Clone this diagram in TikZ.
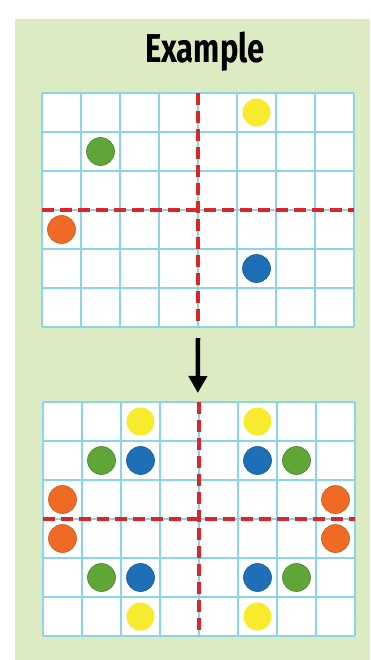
\documentclass[tikz,border=0pt]{standalone}
\usepackage{fontspec}
\usepackage{xcolor}
\usepackage{tikz}
\usetikzlibrary{arrows.meta}
\newfontfamily\titlefont{Fira Sans}
\definecolor{panelgreen}{HTML}{DDEBC3}
\definecolor{gridcyan}{HTML}{8AD5EA}
\definecolor{foldred}{HTML}{D9262B}
\definecolor{dotyellow}{HTML}{F8EA2C}
\definecolor{dotgreen}{HTML}{5FA537}
\definecolor{dotorange}{HTML}{EF6A25}
\definecolor{dotblue}{HTML}{1D70B7}

\begin{document}
\begin{tikzpicture}[x=1pt, y=-1pt,
    gridline/.style={draw=gridcyan, line width=2.2pt},
    foldline/.style={draw=foldred, line width=3.6pt, dash pattern=on 12pt off 6pt},
    dot/.style={circle, minimum size=28pt, inner sep=0pt},
    yellowdot/.style={dot, fill=dotyellow},
    greendot/.style={dot, fill=dotgreen, draw=dotgreen!80!black, line width=0.6pt},
    orangedot/.style={dot, fill=dotorange, draw=dotorange!85!black, line width=0.6pt},
    bluedot/.style={dot, fill=dotblue, draw=dotblue!80!black, line width=0.6pt}]
  % page and panel
  \useasboundingbox (0,0) rectangle (370,660);
  \fill[white] (0,0) rectangle (370,660);
  \fill[panelgreen] (15,19) rectangle (370,660);

  \node[font=\titlefont\bfseries\fontsize{31}{31}\selectfont, yscale=1.3, transform shape]
    (title) at (205,52) {Example};

  % first grid
  \begin{scope}[shift={(42,93)}, x=39pt, y=-39pt]
    \fill[white] (0,0) rectangle (8,6);
    \foreach \i in {0,...,8} \draw[gridline] (\i,0) -- (\i,6);
    \foreach \j in {0,...,6} \draw[gridline] (0,\j) -- (8,\j);
    \draw[foldline] (0,3) -- (8,3);
    \draw[foldline] (4,0) -- (4,6);
    \coordinate (topgrid) at (4,6);
    \node[yellowdot] (ya) at (5.5,0.5) {};
    \node[greendot]  (ga) at (1.5,1.5) {};
    \node[orangedot] (oa) at (0.5,3.5) {};
    \node[bluedot]   (ba) at (5.5,4.5) {};
  \end{scope}

  % mirrored grid
  \begin{scope}[shift={(43,402)}, x=39pt, y=-39pt]
    \fill[white] (0,0) rectangle (8,6);
    \foreach \i in {0,...,8} \draw[gridline] (\i,0) -- (\i,6);
    \foreach \j in {0,...,6} \draw[gridline] (0,\j) -- (8,\j);
    \draw[foldline] (0,3) -- (8,3);
    \draw[foldline] (4,0) -- (4,6);
    \coordinate (bottomgrid) at (3.97,0);
    \foreach \c in {2.5,5.5} {
      \node[yellowdot] at (\c,0.5) {};
      \node[yellowdot] at (\c,5.5) {};
    }
    \foreach \c/\r in {1.5/1.5,6.5/1.5,1.5/4.5,6.5/4.5}
      \node[greendot] at (\c,\r) {};
    \foreach \c/\r in {2.5/1.5,5.5/1.5,2.5/4.5,5.5/4.5}
      \node[bluedot] at (\c,\r) {};
    \foreach \c/\r in {0.5/2.5,7.5/2.5,0.5/3.5,7.5/3.5}
      \node[orangedot] at (\c,\r) {};
  \end{scope}

  % arrow between the two grids
  \draw[line width=4.5pt, -{Triangle[width=18pt, length=17pt]}]
    ([yshift=-11pt]topgrid) -- ([yshift=9pt]bottomgrid);
\end{tikzpicture}
\end{document}
